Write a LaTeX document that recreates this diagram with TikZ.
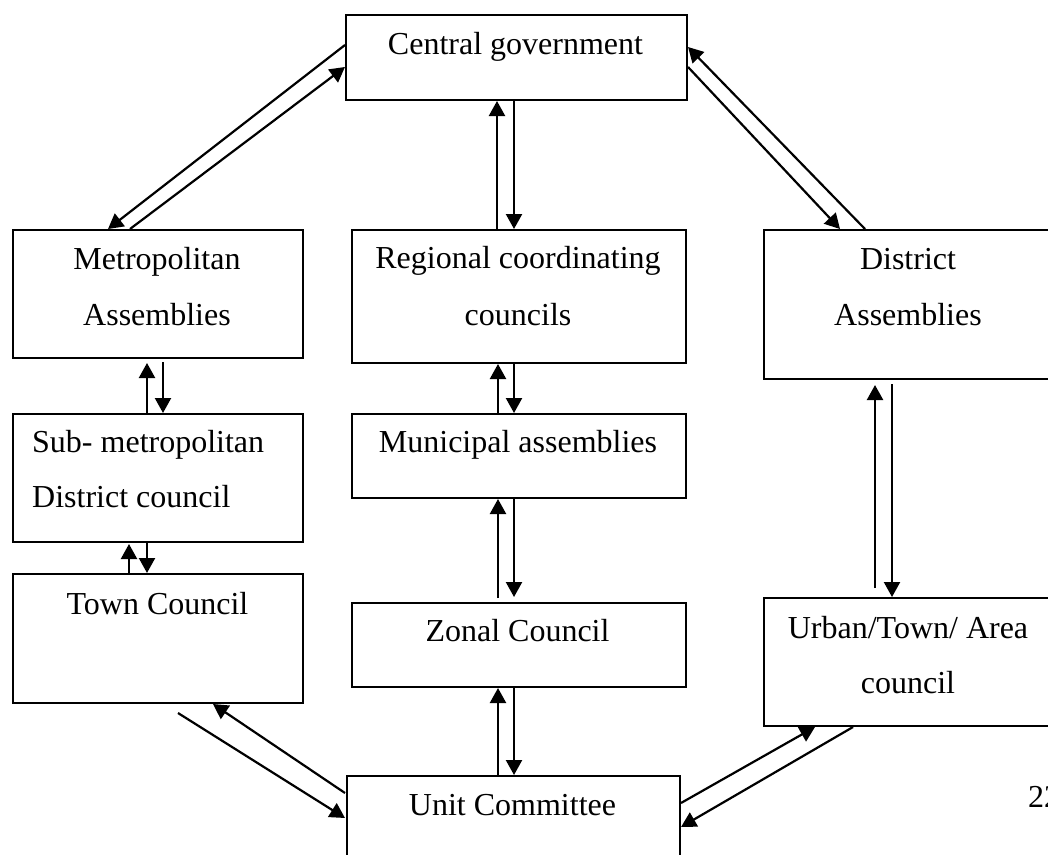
\documentclass[tikz,border=0pt]{standalone}
\usepackage{fontspec}
\setmainfont{Liberation Serif}
\usetikzlibrary{calc,arrows.meta}
\tikzset{
  box/.style={draw, line width=2pt, inner sep=0pt, anchor=north west, rectangle},
  lbl/.style={inner sep=0pt, font=\fontsize{32}{38}\selectfont, anchor=base},
  lbll/.style={lbl, anchor=base west},
  arr/.style={line width=2.2pt, -{Triangle[length=15pt,width=16pt]}},
}
\begin{document}
\begin{tikzpicture}[x=1pt,y=-1pt]
\useasboundingbox (0,0) rectangle (1048,854);
\clip (0,0) rectangle (1048,854);
\fill[white] (0,0) rectangle (1048,854);
% boxes
\node[box, minimum width=341pt, minimum height=85pt] (cg) at (345,14) {};
\node[box, minimum width=290pt, minimum height=128pt] (metro) at (12,229) {};
\node[box, minimum width=334pt, minimum height=133pt] (reg) at (351,229) {};
\node[box, minimum width=290pt, minimum height=149pt] (dist) at (763,229) {};
\node[box, minimum width=290pt, minimum height=128pt] (sub) at (12,413) {};
\node[box, minimum width=334pt, minimum height=84pt] (mun) at (351,413) {};
\node[box, minimum width=290pt, minimum height=129pt] (town) at (12,573) {};
\node[box, minimum width=334pt, minimum height=84pt] (zon) at (351,602) {};
\node[box, minimum width=290pt, minimum height=128pt] (urb) at (763,597) {};
\node[box, minimum width=333pt, minimum height=120pt] (unit) at (346,775) {};
% texts
\node[lbl] (cgt) at (515.5,54) {Central government};
\node[lbl] (metrot1) at (157,269) {Metropolitan};
\node[lbl] (metrot2) at (157,325) {Assemblies};
\node[lbl] (regt1) at (518,268) {Regional coordinating};
\node[lbl] (regt2) at (518,325) {councils};
\node[lbl] (distt1) at (908,269) {District};
\node[lbl] (distt2) at (908,325) {Assemblies};
\node[lbll] (subt1) at (32,452) {Sub- metropolitan};
\node[lbll] (subt2) at (32,507) {District council};
\node[lbl] (munt) at (518,452) {Municipal assemblies};
\node[lbl] (townt) at (157.5,614) {Town Council};
\node[lbl] (zont) at (517.5,641) {Zonal Council};
\node[lbl] (urbt1) at (908,638) {Urban/Town/ Area};
\node[lbl] (urbt2) at (908,693) {council};
\node[lbl] (unitt) at (512.5,815) {Unit Committee};
\node[lbll] (pagenum) at (1028,807) {22};
% connectors
\draw[arr] ($(cg.north west)+(0,31)$) -- ($(metro.north west)+(96,0)$);
\draw[arr] ($(metro.north west)+(118,0)$) -- ($(cg.north west)+(0,53)$);
\draw[arr] ($(reg.north west)+(146,0)$) -- ($(cg.south west)+(152,0)$);
\draw[arr] ($(cg.south west)+(169,0)$) -- ($(reg.north west)+(163,0)$);
\draw[arr] ($(dist.north west)+(102,0)$) -- ($(cg.north east)+(0,33)$);
\draw[arr] ($(cg.north east)+(0,53)$) -- ($(dist.north west)+(77,0)$);
\draw[arr] ($(sub.north west)+(135,0)$) -- ($(metro.south west)+(135,4)$);
\draw[arr] ($(metro.south west)+(151,3)$) -- ($(sub.north west)+(151,0)$);
\draw[arr] ($(town.north west)+(117,0)$) -- ($(sub.south west)+(117,1)$);
\draw[arr] ($(sub.south west)+(135,0)$) -- ($(town.north west)+(135,0)$);
\draw[arr] ($(mun.north west)+(147,0)$) -- ($(reg.south west)+(147,0)$);
\draw[arr] ($(reg.south west)+(163,0)$) -- ($(mun.north west)+(163,0)$);
\draw[arr] ($(zon.north west)+(147,-4)$) -- ($(mun.south west)+(147,0)$);
\draw[arr] ($(mun.south west)+(163,0)$) -- ($(zon.north west)+(163,-5)$);
\draw[arr] ($(unit.north west)+(152,0)$) -- ($(zon.south west)+(147,0)$);
\draw[arr] ($(zon.south west)+(163,0)$) -- ($(unit.north west)+(168,0)$);
\draw[arr] ($(urb.north west)+(112,-9)$) -- ($(dist.south west)+(112,5)$);
\draw[arr] ($(dist.south west)+(129,4)$) -- ($(urb.north west)+(129,0)$);
\draw[arr] ($(unit.north west)+(-1,18)$) -- ($(town.south west)+(201,0)$);
\draw[arr] ($(town.south west)+(166,9)$) -- ($(unit.north west)+(-1,43)$);
\draw[arr] ($(unit.north east)+(0,28)$) -- ($(urb.south west)+(52,0)$);
\draw[arr] ($(urb.south west)+(90,0)$) -- ($(unit.north east)+(0,52)$);
\end{tikzpicture}
\end{document}
